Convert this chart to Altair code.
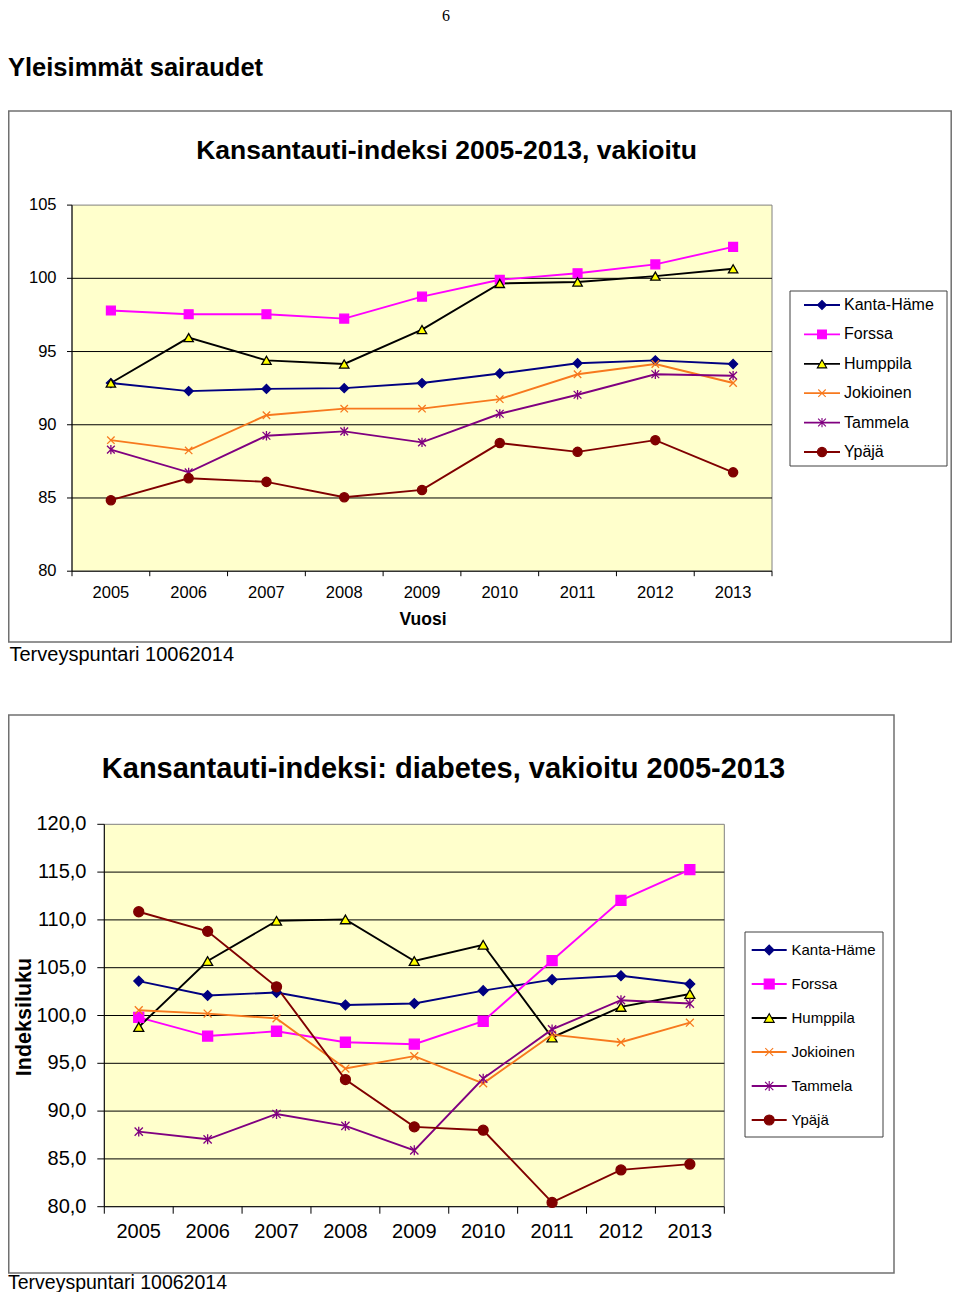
import altair as alt
import pandas as pd

# ---------------- data ----------------
years = [2005, 2006, 2007, 2008, 2009, 2010, 2011, 2012, 2013]
series_names = ["Kanta-Häme", "Forssa", "Humppila", "Jokioinen", "Tammela", "Ypäjä"]

# Chart 1: Kansantauti-indeksi 2005-2013, vakioitu
c1_kanta_hame = [92.85, 92.3, 92.45, 92.5, 92.85, 93.5, 94.2, 94.4, 94.15]
c1_forssa = [97.8, 97.55, 97.55, 97.25, 98.75, 99.9, 100.35, 100.95, 102.15]
c1_humppila = [92.85, 95.95, 94.4, 94.15, 96.5, 99.65, 99.75, 100.15, 100.65]
c1_jokioinen = [88.95, 88.25, 90.65, 91.1, 91.1, 91.75, 93.45, 94.15, 92.85]
c1_tammela = [88.3, 86.75, 89.25, 89.55, 88.8, 90.75, 92.05, 93.45, 93.35]
c1_ypaja = [84.85, 86.35, 86.1, 85.05, 85.55, 88.75, 88.15, 88.95, 86.75]

# Chart 2: Kansantauti-indeksi: diabetes, vakioitu 2005-2013
c2_kanta_hame = [103.6, 102.1, 102.4, 101.1, 101.25, 102.6, 103.75, 104.15, 103.3]
c2_forssa = [99.8, 97.85, 98.35, 97.2, 97.0, 99.4, 105.75, 112.05, 115.25]
c2_humppila = [98.8, 105.7, 109.9, 110.05, 105.7, 107.4, 97.7, 100.9, 102.25]
c2_jokioinen = [100.55, 100.2, 99.7, 94.45, 95.75, 92.9, 98.0, 97.2, 99.25]
c2_tammela = [87.85, 87.05, 89.7, 88.45, 85.9, 93.4, 98.55, 101.6, 101.25]
c2_ypaja = [110.85, 108.8, 103.0, 93.3, 88.35, 88.0, 80.45, 83.85, 84.45]

y1_ticks = [80, 85, 90, 95, 100, 105]
y1_labels = ["80", "85", "90", "95", "100", "105"]
y2_ticks = [80, 85, 90, 95, 100, 105, 110, 115, 120]
y2_labels = ["80,0", "85,0", "90,0", "95,0", "100,0", "105,0", "110,0", "115,0", "120,0"]

# ---------------- styles ----------------
FONT = "Liberation Sans"
SERIF = "Liberation Serif"
X_PATH = "M-1,-1L1,1M-1,1L1,-1"
AST_PATH = "M-1,-1L1,1M-1,1L1,-1M0,-1.2L0,1.2"
line_color = {"Kanta-Häme": "#000080", "Forssa": "#FF00FF", "Humppila": "#000000",
              "Jokioinen": "#F7791E", "Tammela": "#800080", "Ypäjä": "#800000"}
marker_shape = {"Kanta-Häme": "diamond", "Forssa": "square", "Humppila": "triangle-up",
                "Jokioinen": X_PATH, "Tammela": AST_PATH, "Ypäjä": "circle"}
marker_fill = {"Kanta-Häme": "#000080", "Forssa": "#FF00FF", "Humppila": "#FFFF00",
               "Jokioinen": "transparent", "Tammela": "transparent", "Ypäjä": "#800000"}
marker_size1 = {"Kanta-Häme": 80, "Forssa": 78, "Humppila": 88,
                "Jokioinen": 55, "Tammela": 60, "Ypäjä": 85}
marker_size2 = {"Kanta-Häme": 95, "Forssa": 100, "Humppila": 100,
                "Jokioinen": 62, "Tammela": 68, "Ypäjä": 100}

dummy = pd.DataFrame({"k": [0]})


def long_df(values, sizes):
    rows = []
    for s, vals in zip(series_names, values):
        for yr, v in zip(years, vals):
            rows.append({"series": s, "year": yr, "value": v, "color": line_color[s],
                         "shape": marker_shape[s], "fill": marker_fill[s],
                         "size": sizes[s]})
    return pd.DataFrame(rows)


def legend_df(sizes):
    return pd.DataFrame([{"series": s, "row": i, "color": line_color[s],
                          "shape": marker_shape[s], "fill": marker_fill[s],
                          "size": sizes[s]} for i, s in enumerate(series_names)])


def txt(s, x, y, size, weight="normal", align="left", baseline="alphabetic",
        font=FONT, angle=None):
    kw = dict(text=s, fontSize=size, fontWeight=weight, align=align,
              baseline=baseline, font=font, color="#000000")
    if angle is not None:
        kw["angle"] = angle
    return alt.Chart(dummy).mark_text(**kw).encode(x=alt.value(x), y=alt.value(y))


def rect(x, x2, y, y2, fill, stroke, sw):
    return alt.Chart(dummy).mark_rect(fill=fill, stroke=stroke, strokeWidth=sw).encode(
        x=alt.value(x), x2=alt.value(x2), y=alt.value(y), y2=alt.value(y2))


def build_chart(values, sizes, g, yticks, ylabels, fsz, lg):
    xs = alt.Scale(domain=[2004.5, 2013.5], range=[g["left"], g["right"]], nice=False, zero=False)
    ys = alt.Scale(domain=[yticks[0], yticks[-1]], range=[g["bottom"], g["top"]], nice=False, zero=False)
    df = long_df(values, sizes)
    layers = []
    layers.append(rect(g["left"], g["right"], g["top"], g["bottom"], "#FFFFCC", "#808080", 1))
    grid = pd.DataFrame({"v": yticks[1:-1]})
    layers.append(alt.Chart(grid).mark_rule(color="#000000", strokeWidth=1).encode(
        y=alt.Y("v:Q", scale=ys, axis=None), x=alt.value(g["left"]), x2=alt.value(g["right"])))
    # axis lines
    layers.append(alt.Chart(dummy).mark_rule(color="#000000", strokeWidth=1).encode(
        x=alt.value(g["left"]), y=alt.value(g["top"]), y2=alt.value(g["bottom"])))
    layers.append(alt.Chart(dummy).mark_rule(color="#000000", strokeWidth=1).encode(
        x=alt.value(g["left"]), x2=alt.value(g["right"]), y=alt.value(g["bottom"])))
    # tick marks
    tk = pd.DataFrame({"v": yticks, "lab": ylabels})
    layers.append(alt.Chart(tk).mark_rule(color="#000000", strokeWidth=1).encode(
        y=alt.Y("v:Q", scale=ys, axis=None), x=alt.value(g["left"] - g["tick"]), x2=alt.value(g["left"])))
    bd = pd.DataFrame({"b": [y - 0.5 for y in years] + [years[-1] + 0.5]})
    layers.append(alt.Chart(bd).mark_rule(color="#000000", strokeWidth=1).encode(
        x=alt.X("b:Q", scale=xs, axis=None), y=alt.value(g["bottom"]), y2=alt.value(g["bottom"] + g["tick"])))
    # tick labels
    layers.append(alt.Chart(tk).mark_text(font=FONT, fontSize=fsz, align="right", baseline="middle",
                                          color="#000000").encode(
        y=alt.Y("v:Q", scale=ys, axis=None), x=alt.value(g["ylab_x"]), text="lab:N"))
    yl = pd.DataFrame({"year": years, "lab": [str(y) for y in years]})
    layers.append(alt.Chart(yl).mark_text(font=FONT, fontSize=fsz, align="center", baseline="alphabetic",
                                          color="#000000").encode(
        x=alt.X("year:Q", scale=xs, axis=None), y=alt.value(g["xlab_y"]), text="lab:N"))
    # data lines
    layers.append(alt.Chart(df).mark_line(strokeWidth=1.9).encode(
        x=alt.X("year:Q", scale=xs, axis=None),
        y=alt.Y("value:Q", scale=ys, axis=None),
        detail="series:N",
        stroke=alt.Stroke("color:N", scale=None)))
    layers.append(alt.Chart(df).mark_point(opacity=1, strokeWidth=1.3).encode(
        x=alt.X("year:Q", scale=xs, axis=None),
        y=alt.Y("value:Q", scale=ys, axis=None),
        shape=alt.Shape("shape:N", scale=None),
        fill=alt.Fill("fill:N", scale=None),
        stroke=alt.Stroke("color:N", scale=None),
        size=alt.Size("size:Q", scale=None)))
    # legend (own row scale)
    ld = legend_df(sizes)
    lys = alt.Scale(domain=[0, 5], range=[lg["r0"], lg["r5"]], nice=False, zero=False)
    layers.append(rect(lg["x0"], lg["x1"], lg["y0"], lg["y1"], "#FFFFFF", "#404040", 1))
    layers.append(alt.Chart(ld).mark_rule(strokeWidth=1.8).encode(
        y=alt.Y("row:Q", scale=lys, axis=None), x=alt.value(lg["l0"]), x2=alt.value(lg["l1"]),
        stroke=alt.Stroke("color:N", scale=None)))
    layers.append(alt.Chart(ld).mark_point(opacity=1, strokeWidth=1.1).encode(
        y=alt.Y("row:Q", scale=lys, axis=None), x=alt.value((lg["l0"] + lg["l1"]) / 2),
        shape=alt.Shape("shape:N", scale=None),
        fill=alt.Fill("fill:N", scale=None),
        stroke=alt.Stroke("color:N", scale=None),
        size=alt.Size("size:Q", scale=None)))
    layers.append(alt.Chart(ld).mark_text(font=FONT, fontSize=lg["fs"], align="left", baseline="middle",
                                          color="#000000").encode(
        y=alt.Y("row:Q", scale=lys, axis=None), x=alt.value(lg["tx"]), text="series:N"))
    return alt.layer(*layers).resolve_scale(x="independent", y="independent")


g1 = dict(left=64, right=764, top=197.1, bottom=563.2, tick=5, ylab_x=48.5, xlab_y=590)
lg1 = dict(x0=782, x1=939, y0=283, y1=458, r0=297, r5=444, l0=796, l1=832, tx=836, fs=16)
g2 = dict(left=96.3, right=716.3, top=816.3, bottom=1198.7, tick=7, ylab_x=78.5, xlab_y=1230)
lg2 = dict(x0=737, x1=875, y0=924, y1=1129, r0=942, r5=1112, l0=743.7, l1=778.7, tx=783.5, fs=15)

chart1 = build_chart([c1_kanta_hame, c1_forssa, c1_humppila, c1_jokioinen, c1_tammela, c1_ypaja],
                     marker_size1, g1, y1_ticks, y1_labels, 16.5, lg1)
chart2 = build_chart([c2_kanta_hame, c2_forssa, c2_humppila, c2_jokioinen, c2_tammela, c2_ypaja],
                     marker_size2, g2, y2_ticks, y2_labels, 20, lg2)

page = [
    txt("6", 438, 13, 16, font=SERIF, align="center"),
    txt("Yleisimmät sairaudet", 0, 68, 25.5, weight="bold"),
    rect(0.75, 943.2, 103, 634, "#FFFFFF", "#707070", 1.5),
    rect(0.75, 886, 707, 1265, "#FFFFFF", "#707070", 1.5),
    txt("Kansantauti-indeksi 2005-2013, vakioitu", 438.5, 151, 26.5, weight="bold", align="center"),
    txt("Vuosi", 415, 617, 17.5, weight="bold", align="center"),
    txt("Terveyspuntari 10062014", 1.5, 652.5, 20),
    txt("Kansantauti-indeksi: diabetes, vakioitu 2005-2013", 435.5, 770, 29, weight="bold", align="center"),
    txt("Indeksiluku", 17, 1009, 21.5, weight="bold", align="center", baseline="middle", angle=270),
    txt("Terveyspuntari 10062014", 0, 1281, 19.5),
]

chart = alt.layer(*page[:4], chart1, chart2, *page[4:]).resolve_scale(
    x="independent", y="independent"
).properties(
    width=944, height=1284,
    autosize=alt.AutoSizeParams(type="none"),
    padding=0,
    background="#FFFFFF",
).configure_view(stroke=None)

chart.save("out.html", embed_options={"renderer": "svg", "actions": False})
